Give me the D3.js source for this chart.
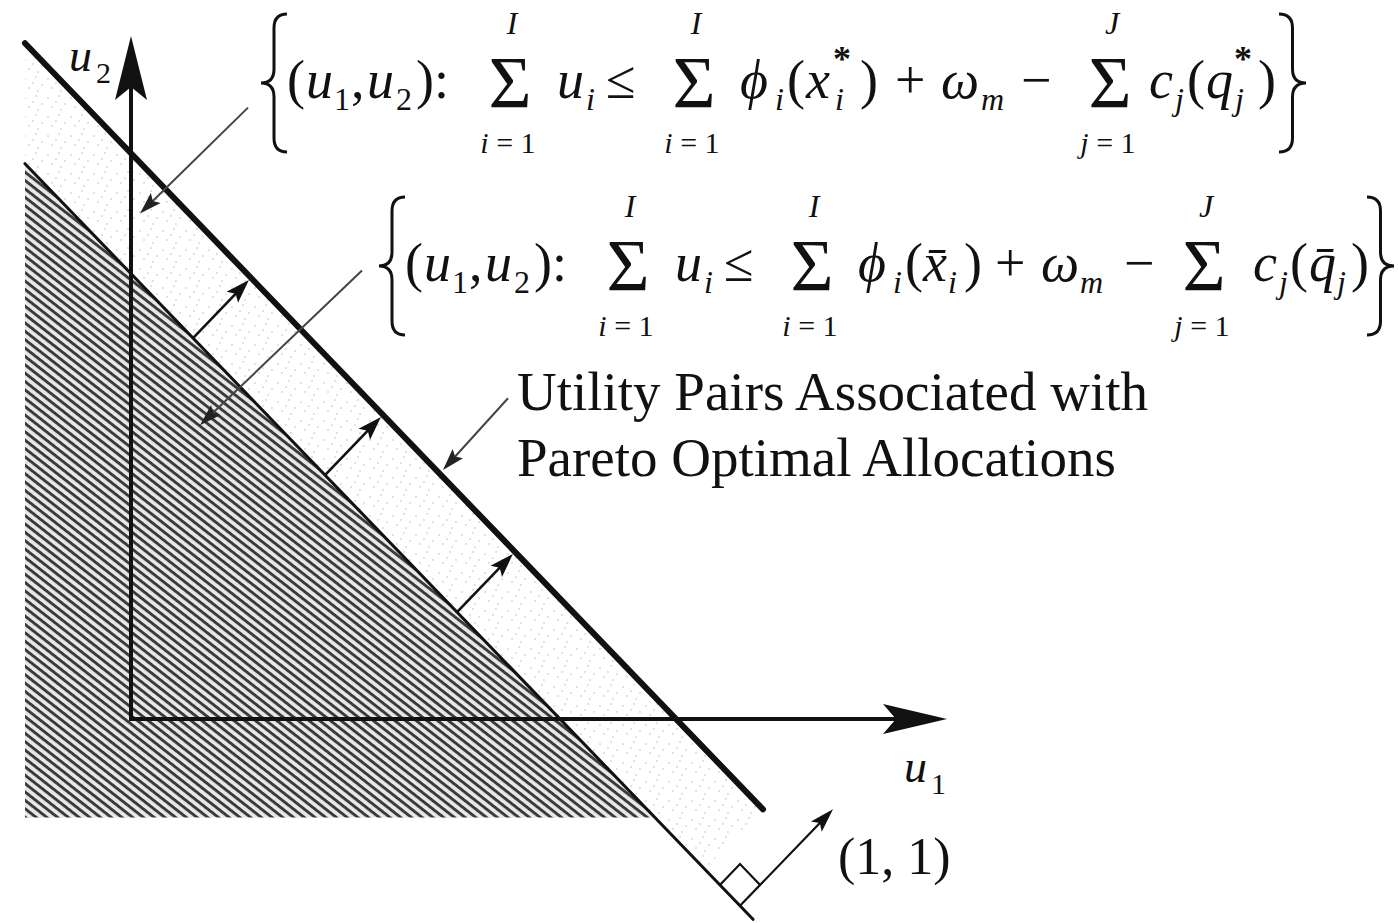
<!DOCTYPE html>
<html>
<head>
<meta charset="utf-8">
<script src="https://cdn.jsdelivr.net/npm/d3@7"></script>
<style>
  html, body { margin: 0; padding: 0; background: #fff; }
  svg { display: block; }
  text { font-family: "Liberation Serif", "Times New Roman", serif; fill: #111; }
</style>
</head>
<body>
<svg id="chart" width="1398" height="923"></svg>
<script>
// Aggregate utility totals of the two frontiers: u1 + u2 = total
const frontierNames = ["optimal", "initial"];
const frontierTotals = [5.45, 4.29];
const frontierStroke = [6, 3];
// drawn extent of each frontier along u1
const frontierU1Start = [-1.06, -1.06];
const frontierU1End = [6.32, 6.22];

// u1 positions (on the inner frontier) of the outward shift arrows
const shiftArrowU1 = [0.62, 1.94, 3.26];

// axis extents
const u1Domain = [0, 8.16];
const u2Domain = [0, 6.58];

// lower/left limits of the shaded region
const regionU1Min = -1.06;
const regionU2Min = -0.95;

// normal vector drawn from the inner frontier
const normalVector = [1, 1];
const normalBaseU1 = 6.09;
const normalLength = 0.93;

// leader lines for the annotations: [from, to] in (u1, u2)
const leaderFormulaStar = [[1.17, 5.89], [0.09, 4.87]];
const leaderFormulaBar = [[2.31, 4.32], [0.69, 2.83]];
const leaderFrontier = [[3.77, 3.09], [3.12, 2.40]];

// text
const axisLabels = [{ base: "u", sub: "2" }, { base: "u", sub: "1" }];
const normalLabel = "(1, 1)";
const frontierLabelLines = ["Utility Pairs Associated with", "Pareto Optimal Allocations"];

const svg = d3.select("#chart");
const x = d3.scaleLinear().domain(u1Domain).range([131, 947]);
const y = d3.scaleLinear().domain(u2Domain).range([719, 36]);

const defs = svg.append("defs");

// diagonal hatch for the initial attainable set
const hatch = defs.append("pattern")
  .attr("id", "hatch").attr("patternUnits", "userSpaceOnUse")
  .attr("width", 6.6).attr("height", 6.6)
  .attr("patternTransform", "rotate(38)");
hatch.append("rect").attr("width", 6.6).attr("height", 6.6).attr("fill", "#e8e8e8");
hatch.append("rect").attr("y", 0).attr("width", 6.6).attr("height", 2.9).attr("fill", "#3a3a3a");

// light stipple for the enlarged set
const stip = defs.append("pattern")
  .attr("id", "stipple").attr("patternUnits", "userSpaceOnUse")
  .attr("width", 23).attr("height", 19);
[[2, 3], [13, 1], [19, 9], [6, 12], [15, 15], [10, 7]].forEach(p => {
  stip.append("circle").attr("cx", p[0]).attr("cy", p[1]).attr("r", 0.8).attr("fill", "#bdbdbd");
});

const W = frontierTotals;
const line = d3.line().x(d => x(d[0])).y(d => y(d[1]));

// stippled band between the frontiers
const tBand = (W[0] - W[1]) / 2;
const bandPts = [
  [frontierU1Start[0], W[0] - frontierU1Start[0]],
  [frontierU1End[0], W[0] - frontierU1End[0]],
  [frontierU1End[0] - tBand, W[0] - frontierU1End[0] - tBand],
  [regionU1Min, W[1] - regionU1Min]
];
svg.append("path").attr("d", line(bandPts) + "Z").attr("fill", "url(#stipple)");

// hatched set below the inner frontier
const hatchPts = [
  [regionU1Min, W[1] - regionU1Min],
  [W[1] - regionU2Min, regionU2Min],
  [regionU1Min, regionU2Min]
];
svg.append("path").attr("d", line(hatchPts) + "Z").attr("fill", "url(#hatch)");

// arrowhead helper (pixel space)
function arrowHead(tip, dir, L, Wd, N) {
  const len = Math.hypot(dir[0], dir[1]);
  const d = [dir[0] / len, dir[1] / len];
  const n = [-d[1], d[0]];
  const b = [tip[0] - L * d[0], tip[1] - L * d[1]];
  const m = [tip[0] - (L - N) * d[0], tip[1] - (L - N) * d[1]];
  return `M${tip[0]},${tip[1]}L${b[0] + Wd * n[0]},${b[1] + Wd * n[1]}L${m[0]},${m[1]}L${b[0] - Wd * n[0]},${b[1] - Wd * n[1]}Z`;
}

// axes (no ticks, just the domain line)
const xAxis = svg.append("g").attr("transform", `translate(0,${y(0)})`)
  .call(d3.axisBottom(x).tickValues([]).tickSizeOuter(0));
xAxis.select(".domain").attr("stroke", "#111").attr("stroke-width", 4)
  .attr("d", `M${x(0) - 2},0H${x(u1Domain[1]) - 40}`);
const yAxis = svg.append("g").attr("transform", `translate(${x(0)},0)`)
  .call(d3.axisLeft(y).tickValues([]).tickSizeOuter(0));
yAxis.select(".domain").attr("stroke", "#111").attr("stroke-width", 4)
  .attr("d", `M0,${y(0) + 2}V${y(u2Domain[1]) + 40}`);
svg.append("path").attr("fill", "#111")
  .attr("d", arrowHead([x(u1Domain[1]), y(0)], [1, 0], 64, 15, 13));
svg.append("path").attr("fill", "#111")
  .attr("d", arrowHead([x(0), y(u2Domain[1])], [0, -1], 64, 16, 13));

// frontiers
frontierTotals.forEach((tot, i) => {
  svg.append("path")
    .attr("class", "frontier " + frontierNames[i])
    .attr("d", line([[frontierU1Start[i], tot - frontierU1Start[i]], [frontierU1End[i], tot - frontierU1End[i]]]))
    .attr("stroke", "#111").attr("stroke-width", frontierStroke[i])
    .attr("stroke-linecap", "round").attr("fill", "none");
});

// outward shift arrows
shiftArrowU1.forEach(u => {
  const a = [u, W[1] - u];
  const b = [u + tBand, W[1] - u + tBand];
  const p0 = [x(a[0]), y(a[1])], p1 = [x(b[0]), y(b[1])];
  const dir = [p1[0] - p0[0], p1[1] - p0[1]];
  const len = Math.hypot(dir[0], dir[1]);
  const tip = [p1[0] - 3 * dir[0] / len, p1[1] - 3 * dir[1] / len];
  svg.append("line").attr("x1", p0[0]).attr("y1", p0[1]).attr("x2", tip[0] - 12 * dir[0] / len).attr("y2", tip[1] - 12 * dir[1] / len)
    .attr("stroke", "#111").attr("stroke-width", 2.6);
  svg.append("path").attr("fill", "#111").attr("d", arrowHead(tip, dir, 24, 8, 5));
});

// leader lines
[leaderFormulaStar, leaderFormulaBar, leaderFrontier].forEach(ld => {
  const p0 = [x(ld[0][0]), y(ld[0][1])], p1 = [x(ld[1][0]), y(ld[1][1])];
  const dir = [p1[0] - p0[0], p1[1] - p0[1]];
  const len = Math.hypot(dir[0], dir[1]);
  svg.append("line").attr("x1", p0[0]).attr("y1", p0[1])
    .attr("x2", p1[0] - 10 * dir[0] / len).attr("y2", p1[1] - 10 * dir[1] / len)
    .attr("stroke", "#444").attr("stroke-width", 2);
  svg.append("path").attr("fill", "#222").attr("d", arrowHead(p1, dir, 22, 7, 4));
});

// normal vector with right-angle mark
{
  const base = [normalBaseU1, W[1] - normalBaseU1];
  const tipU = [base[0] + normalVector[0] * normalLength, base[1] + normalVector[1] * normalLength];
  const B = [x(base[0]), y(base[1])], T = [x(tipU[0]), y(tipU[1])];
  const dn = [T[0] - B[0], T[1] - B[1]];
  const ln = Math.hypot(dn[0], dn[1]);
  const n = [dn[0] / ln, dn[1] / ln];
  const lp0 = [x(0), y(W[1])], lp1 = [x(W[1]), y(0)];
  const dl0 = [lp0[0] - lp1[0], lp0[1] - lp1[1]];
  const ll = Math.hypot(dl0[0], dl0[1]);
  const dl = [dl0[0] / ll, dl0[1] / ll];
  const s = 29;
  svg.append("path").attr("fill", "none").attr("stroke", "#111").attr("stroke-width", 2.2)
    .attr("d", `M${B[0] + s * dl[0]},${B[1] + s * dl[1]}L${B[0] + s * dl[0] + s * n[0]},${B[1] + s * dl[1] + s * n[1]}L${B[0] + s * n[0]},${B[1] + s * n[1]}`);
  svg.append("line").attr("x1", B[0]).attr("y1", B[1]).attr("x2", T[0] - 12 * n[0]).attr("y2", T[1] - 12 * n[1])
    .attr("stroke", "#111").attr("stroke-width", 2.2);
  svg.append("path").attr("fill", "#111").attr("d", arrowHead(T, dn, 24, 7.5, 5));
}

// axis labels
function subLabel(px, py, lab) {
  svg.append("text").attr("x", px).attr("y", py).attr("font-size", 46)
    .attr("font-style", "italic").text(lab.base);
  svg.append("text").attr("x", px + 27).attr("y", py + 12).attr("font-size", 30).text(lab.sub);
}
subLabel(x(0) - 62, y(u2Domain[1]) + 35, axisLabels[0]);
subLabel(x(u1Domain[1]) - 43, y(0) + 63, axisLabels[1]);

svg.append("text").attr("x", x(u1Domain[1]) - 109).attr("y", y(0) + 155)
  .attr("font-size", 52).text(normalLabel);

frontierLabelLines.forEach((t, i) => {
  svg.append("text").attr("x", 517).attr("y", 410 + i * 66).attr("font-size", 55).text(t);
});

// set-builder formulas
function brace(px0, px1, yTop, yBot) {
  // px0: open end, px1: tip
  const xm = (px0 + px1) / 2, ym = (yTop + yBot) / 2, r = 14;
  return `M${px0},${yTop}Q${xm},${yTop} ${xm},${yTop + r}L${xm},${ym - r}Q${xm},${ym} ${px1},${ym}` +
         `Q${xm},${ym} ${xm},${ym + r}L${xm},${yBot - r}Q${xm},${yBot} ${px0},${yBot}`;
}
function sumSign(g, cx, base, upper, lowerVar) {
  g.append("text").attr("x", cx).attr("y", base).attr("font-size", 74).attr("text-anchor", "middle").text("\u03A3");
  g.append("text").attr("x", cx + 2).attr("y", base - 74).attr("font-size", 32)
    .attr("font-style", "italic").attr("text-anchor", "middle").text(upper);
  const lo = g.append("text").attr("x", cx - 2).attr("y", base + 45).attr("font-size", 30).attr("text-anchor", "middle");
  lo.append("tspan").attr("font-style", "italic").text(lowerVar);
  lo.append("tspan").text(" = 1");
}
function tokens(g, list, base) {
  list.forEach(t => {
    const dy = t.k === "sub" ? 12 : t.k === "sup" ? -27 : 0;
    const fs = t.k === "sub" ? 32 : t.k === "sup" ? 36 : 54;
    g.append("text").attr("x", t.x).attr("y", base + dy).attr("font-size", fs)
      .attr("font-style", t.it ? "italic" : "normal")
      .attr("font-weight", t.k === "sup" ? "bold" : "normal")
      .text(t.t);
  });
}

function formula(dx, base, cfg) {
  const g = svg.append("g");
  g.append("path").attr("d", brace(dx + 287, dx + 261, base - 84, base + 54))
    .attr("fill", "none").attr("stroke", "#111").attr("stroke-width", 3);
  tokens(g, [
    { t: "(", x: dx + 287 }, { t: "u", x: dx + 306, it: 1 }, { t: "1", x: dx + 334, k: "sub" },
    { t: ",", x: dx + 351 }, { t: "u", x: dx + 367, it: 1 }, { t: "2", x: dx + 396, k: "sub" },
    { t: "):", x: dx + 416 },
    { t: "u", x: dx + 557, it: 1 }, { t: "i", x: dx + 586, it: 1, k: "sub" },
    { t: "\u2264", x: dx + 606 },
    { t: "\u03D5", x: dx + 740, it: 1 }, { t: "i", x: dx + 775, it: 1, k: "sub" }
  ], base);
  sumSign(g, dx + 510, base + 10, "I", "i");
  sumSign(g, dx + 694, base + 10, "I", "i");
  tokens(g, cfg.tail, base);
  sumSign(g, cfg.sum3, base + 10, "J", "j");
  g.append("path").attr("d", brace(cfg.close - 27, cfg.close, base - 84, base + 54))
    .attr("fill", "none").attr("stroke", "#111").attr("stroke-width", 3);
}

formula(0, 98, {
  tail: [
    { t: "(", x: 787 }, { t: "x", x: 806, it: 1 }, { t: "*", x: 833, k: "sup" }, { t: "i", x: 835, it: 1, k: "sub" },
    { t: ")", x: 860 }, { t: "+", x: 895 }, { t: "\u03C9", x: 941, it: 1 }, { t: "m", x: 981, it: 1, k: "sub" },
    { t: "\u2212", x: 1021 },
    { t: "c", x: 1149, it: 1 }, { t: "j", x: 1175, it: 1, k: "sub" }, { t: "(", x: 1187 },
    { t: "q", x: 1206, it: 1 }, { t: "*", x: 1234, k: "sup" }, { t: "j", x: 1235, it: 1, k: "sub" }, { t: ")", x: 1258 }
  ],
  sum3: 1110, close: 1306
});

formula(118, 281, {
  tail: [
    { t: "(", x: 905 }, { t: "x\u0304", x: 923, it: 1 }, { t: "i", x: 948, it: 1, k: "sub" },
    { t: ")", x: 964 }, { t: "+", x: 995 }, { t: "\u03C9", x: 1041, it: 1 }, { t: "m", x: 1080, it: 1, k: "sub" },
    { t: "\u2212", x: 1124 },
    { t: "c", x: 1253, it: 1 }, { t: "j", x: 1279, it: 1, k: "sub" }, { t: "(", x: 1290 },
    { t: "q\u0304", x: 1309, it: 1 }, { t: "j", x: 1337, it: 1, k: "sub" }, { t: ")", x: 1351 }
  ],
  sum3: 1204, close: 1394
});
</script>
</body>
</html>
